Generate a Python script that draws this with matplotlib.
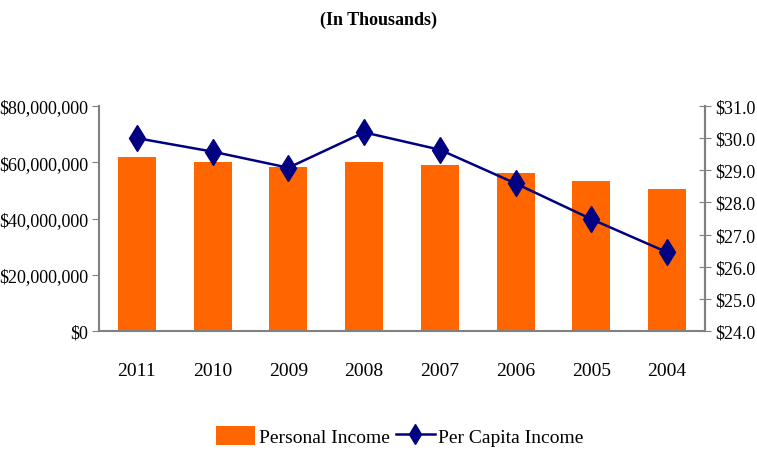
import matplotlib
matplotlib.use("Agg")
import matplotlib.pyplot as plt
from matplotlib.ticker import FuncFormatter
from matplotlib.lines import Line2D
from matplotlib.patches import Patch

years = ["2011", "2010", "2009", "2008", "2007", "2006", "2005", "2004"]
personal_income = [61.9e6, 60.1e6, 58.3e6, 60.1e6, 59.0e6, 56.2e6, 53.3e6, 50.5e6]
per_capita_income = [30.0, 29.58, 29.08, 30.18, 29.64, 28.59, 27.48, 26.45]

plt.rcParams['font.family'] = ['Liberation Serif', 'DejaVu Serif']
fs = 13

fig = plt.figure(figsize=(7.57, 4.52), dpi=100)
ax = fig.add_axes([99/757, 120/452, 606/757, 225/452])
x = list(range(len(years)))
ax.bar(x, personal_income, width=0.5, color='#FF6600', zorder=2)
ax.set_xlim(-0.5, len(years) - 0.5)
ax.set_ylim(0, 80e6)
ax.set_yticks([0, 20e6, 40e6, 60e6, 80e6])
ax.yaxis.set_major_formatter(FuncFormatter(lambda v, p: "${:,.0f}".format(v)))
ax.set_xticks(x)
ax.set_xticklabels(years)
ax.tick_params(axis='x', length=0, pad=22, labelsize=fs + 1)
ax.tick_params(axis='y', direction='out', length=5, color='#808080', labelsize=fs, pad=3)
for s in ['top']:
    ax.spines[s].set_visible(False)
for s in ['left', 'bottom', 'right']:
    ax.spines[s].set_color('#808080')
    ax.spines[s].set_linewidth(1.5)

ax2 = ax.twinx()
ax2.plot(x, per_capita_income, color='#000080', lw=1.8, marker='d', markersize=13,
         markerfacecolor='#000080', markeredgecolor='#000080', zorder=3)
ax2.set_ylim(24, 31)
ax2.set_yticks([24, 25, 26, 27, 28, 29, 30, 31])
ax2.yaxis.set_major_formatter(FuncFormatter(lambda v, p: "${:.1f}".format(v)))
ax2.tick_params(axis='y', direction='inout', length=9, color='#808080', labelsize=fs, pad=3)
ax2.spines['top'].set_visible(False)
ax2.spines['right'].set_color('#808080')
ax2.spines['right'].set_linewidth(1.5)
ax2.spines['left'].set_visible(False)
ax2.spines['bottom'].set_visible(False)

fig.text(0.5, 1 - 20/452, "(In Thousands)", ha='center', va='center',
         fontsize=13, fontweight='bold')

handles = [Patch(facecolor='#FF6600', edgecolor='none'),
           Line2D([0], [0], color='#000080', lw=1.8, marker='d', markersize=10,
                  markerfacecolor='#000080')]
fig.legend(handles, ["Personal Income", "Per Capita Income"], loc='center',
           bbox_to_anchor=(400/757, 1 - 437/452), ncol=2, frameon=False,
           fontsize=fs + 1, handlelength=2.0, handleheight=1.1, columnspacing=0.3,
           handletextpad=0.2)

fig.savefig("out.png", dpi=100)
